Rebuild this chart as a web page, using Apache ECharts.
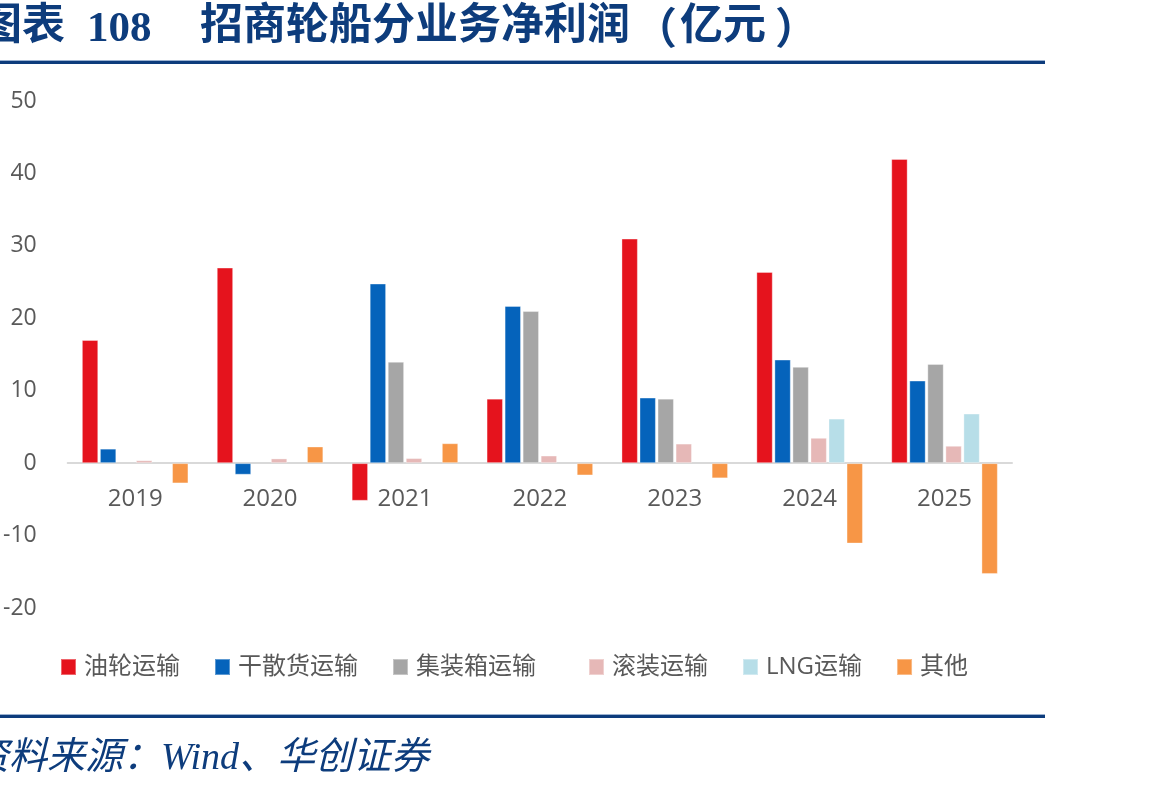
<!DOCTYPE html>
<html>
<head>
<meta charset="utf-8">
<script src="https://cdn.jsdelivr.net/npm/echarts@6/dist/echarts.min.js"></script>
<style>
  html, body { margin: 0; padding: 0; background: #fff; }
  #chart { width: 1154px; height: 792px; }
</style>
</head>
<body>
<div id="chart"></div>
<script>
// Données (亿元)
const annees = ['2019', '2020', '2021', '2022', '2023', '2024', '2025'];
const youlun = [17.0, 27.0, -5.2, 8.9, 31.0, 26.4, 42.0];       // 油轮运输
const gansanhuo = [2.0, -1.6, 24.8, 21.7, 9.05, 14.3, 11.4];    // 干散货运输
const jizhuangxiang = [null, null, 14.0, 21.0, 8.9, 13.3, 13.7]; // 集装箱运输
const gunzhuang = [0.4, 0.65, 0.7, 1.05, 2.7, 3.5, 2.4];         // 滚装运输
const lng = [null, null, null, null, null, 6.15, 6.85];          // LNG运输
const qita = [-2.8, 2.3, 2.75, -1.7, -2.1, -11.1, -15.3];        // 其他

const noms = ['油轮运输', '干散货运输', '集装箱运输', '滚装运输', 'LNG运输', '其他'];
const couleurs = ['#e5131d', '#0563bb', '#a6a6a6', '#e6b8b7', '#b7dee8', '#f79646'];
const series = [youlun, gansanhuo, jizhuangxiang, gunzhuang, lng, qita];

const bleu = '#0d3c7c';
const police = "'Open Sans', 'Noto Sans CJK SC', sans-serif";
const policeTitre = "'Liberation Serif', 'Noto Sans CJK SC', serif";

const legende = (items, gauche) => ({
    data: items,
    left: gauche, top: 650,
    itemWidth: 15, itemHeight: 16, itemGap: 34,
    icon: 'rect',
    textStyle: { color: '#595959', fontSize: 24, fontFamily: police, padding: [0, 0, 0, 3] }
});

const chart = echarts.init(document.getElementById('chart'));
const option = {
    backgroundColor: '#fff',
    animation: false,
    grid: { left: 62, right: 142, top: 101, bottom: 184 },
    legend: [legende(noms.slice(0, 3), 55), legende(noms.slice(3), 583)],
    xAxis: {
        type: 'category',
        data: annees,
        // l'axe des catégories passe par zéro
        offset: -145,
        axisLine: { onZero: false, lineStyle: { color: '#d9d9d9', width: 2 } },
        axisTick: { show: false },
        axisLabel: { color: '#595959', fontSize: 24, fontFamily: police, margin: 24 }
    },
    yAxis: {
        type: 'value',
        min: -20, max: 50, interval: 10,
        axisLine: { show: false },
        axisTick: { show: false },
        splitLine: { show: false },
        axisLabel: { color: '#595959', fontSize: 23, fontFamily: police, margin: 31 }
    },
    series: series.map((d, i) => ({
        name: noms[i],
        type: 'bar',
        data: d,
        barGap: '10%',
        barCategoryGap: '21%',
        itemStyle: { color: couleurs[i], borderColor: 'rgba(255,255,255,0.35)', borderWidth: 1 }
    })),
    graphic: [
        // titre
        { type: 'text', x: -21, y: 28, style: { text: '图表', fill: bleu, fontSize: 43, fontWeight: 'bold', fontFamily: policeTitre, verticalAlign: 'middle' } },
        { type: 'text', x: 87, y: 30, style: { text: '108', fill: bleu, fontSize: 43, fontWeight: 'bold', fontFamily: policeTitre, verticalAlign: 'middle' } },
        { type: 'text', x: 200, y: 28, style: { text: '招商轮船分业务净利润', fill: bleu, fontSize: 43, fontWeight: 'bold', fontFamily: policeTitre, verticalAlign: 'middle' } },
        { type: 'text', x: 634, y: 28, style: { text: '（', fill: bleu, fontSize: 43, fontWeight: 'bold', fontFamily: "'Noto Sans CJK SC'", verticalAlign: 'middle' } },
        { type: 'text', x: 680, y: 28, style: { text: '亿元', fill: bleu, fontSize: 43, fontWeight: 'bold', fontFamily: policeTitre, verticalAlign: 'middle' } },
        { type: 'text', x: 775, y: 28, style: { text: '）', fill: bleu, fontSize: 43, fontWeight: 'bold', fontFamily: "'Noto Sans CJK SC'", verticalAlign: 'middle' } },
        // filets
        { type: 'rect', shape: { x: 0, y: 60, width: 1045, height: 1 }, style: { fill: '#9bb2d1' } },
        { type: 'rect', shape: { x: 0, y: 61, width: 1045, height: 3 }, style: { fill: bleu } },
        { type: 'rect', shape: { x: 0, y: 714, width: 1045, height: 1 }, style: { fill: '#9bb2d1' } },
        { type: 'rect', shape: { x: 0, y: 715, width: 1045, height: 3 }, style: { fill: bleu } },
        // source
        { type: 'text', x: -29, y: 759, style: { text: '资料来源：Wind、华创证券', fill: bleu, fontSize: 38, fontStyle: 'italic', fontFamily: policeTitre, verticalAlign: 'middle' } }
    ]
};
chart.setOption(option);
window.addEventListener('resize', () => chart.resize());
</script>
</body>
</html>
